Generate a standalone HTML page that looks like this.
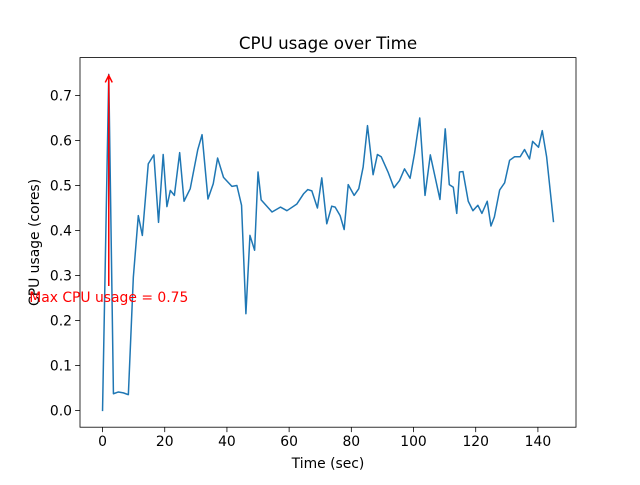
<!DOCTYPE html>
<html><head><meta charset="utf-8"><style>
body{margin:0;background:#fff;}
svg text{font-family:"DejaVu Sans","Liberation Sans",sans-serif;}
</style></head><body>
<svg id="chart" width="640" height="480" viewBox="0 0 640 480" xmlns="http://www.w3.org/2000/svg">
<rect width="640" height="480" fill="#fff"/>
<g id="plot"></g>
</svg>
<script>
const timeValues=[0,2,3.5,5.1,6.7,8.3,9.9,11.5,12.8,14.7,16.5,18,19.5,20.7,21.8,23.1,24.8,26.2,28.2,30.6,32,33.9,35.6,37,38.9,41.6,43.2,44.7,46.1,47.4,48.9,50,51,54.5,57.2,59.3,62.5,64.7,66,67.3,69.1,70.5,72.1,73.7,74.8,76.4,77.7,79,80.9,82.4,83.8,85.2,87,88.4,89.6,91.8,93.7,95.5,97.1,98.9,100.3,102,103.7,105.4,107,108.5,110.2,111.5,112.8,113.9,114.8,115.9,117.6,119.1,120.7,122,123.7,124.9,126,127.7,129.3,130.9,132.5,134.3,135.7,137.3,138.3,140.2,141.4,142.8,145];
const cpuValues=[0,0.747,0.037,0.041,0.039,0.035,0.296,0.433,0.389,0.548,0.568,0.418,0.569,0.453,0.489,0.478,0.573,0.465,0.493,0.579,0.613,0.47,0.504,0.561,0.518,0.498,0.5,0.456,0.215,0.389,0.356,0.53,0.468,0.441,0.452,0.444,0.459,0.482,0.491,0.488,0.45,0.517,0.415,0.454,0.452,0.433,0.402,0.502,0.478,0.493,0.541,0.633,0.524,0.569,0.564,0.53,0.495,0.511,0.537,0.516,0.57,0.65,0.478,0.568,0.517,0.469,0.626,0.502,0.496,0.438,0.53,0.531,0.465,0.444,0.456,0.438,0.465,0.41,0.43,0.49,0.506,0.556,0.564,0.564,0.58,0.559,0.598,0.585,0.622,0.564,0.42];
const xTicks=[0,20,40,60,80,100,120,140];
const yTicks=[0,0.1,0.2,0.3,0.4,0.5,0.6,0.7];
const annotText="Max CPU usage = 0.75";
const annotPoint=[2,0.747];
const annotTextPos=[2,0.25];

const L=80,R=576,T=57.6,B=427.2;
const xmin=Math.min(...timeValues),xmax=Math.max(...timeValues);
const ymin=Math.min(...cpuValues),ymax=Math.max(...cpuValues);
const xpad=(xmax-xmin)*0.05,ypad=(ymax-ymin)*0.05;
const x0=xmin-xpad,x1=xmax+xpad,y0=ymin-ypad,y1=ymax+ypad;
const sx=v=>L+(v-x0)/(x1-x0)*(R-L);
const sy=v=>B-(v-y0)/(y1-y0)*(B-T);
const NS="http://www.w3.org/2000/svg";
const g=document.getElementById('plot');
function mk(tag,attrs,parent){const e=document.createElementNS(NS,tag);for(const k in attrs)e.setAttribute(k,attrs[k]);(parent||g).appendChild(e);return e;}

const line=mk('polyline',{points:timeValues.map((t,i)=>sx(t)+','+sy(cpuValues[i])).join(' '),fill:'none',stroke:'#1f77b4','stroke-width':1.5,'stroke-linejoin':'round','stroke-linecap':'square'});



const frame=mk('rect',{x:L,y:T,width:R-L,height:B-T,fill:'none',stroke:'#000','stroke-width':0.8});



xTicks.forEach(v=>{
  const x=sx(v);
  const tk=mk('line',{x1:x,x2:x,y1:B,y2:B+4.9,stroke:'#000','stroke-width':0.8});
  
  
  const tx=mk('text',{x:x,y:B+19,'text-anchor':'middle','font-size':'13.9px',fill:'#000'});
  tx.textContent=String(v);
  
  
});
yTicks.forEach(v=>{
  const y=sy(v);
  const tk=mk('line',{x1:L-4.9,x2:L,y1:y,y2:y,stroke:'#000','stroke-width':0.8});
  
  
  const tx=mk('text',{x:L-8,y:y+5,'text-anchor':'end','font-size':'13.9px',fill:'#000'});
  tx.textContent=v.toFixed(1);
  
  
});

const title=mk('text',{x:(L+R)/2,y:49,'text-anchor':'middle','font-size':'16.7px',fill:'#000'});
title.textContent='CPU usage over Time';



const xl=mk('text',{x:(L+R)/2,y:468,'text-anchor':'middle','font-size':'13.9px',fill:'#000'});
xl.textContent='Time (sec)';



const yl=mk('text',{x:0,y:0,'text-anchor':'middle','font-size':'13.9px',fill:'#000',transform:'translate(39,'+((T+B)/2)+') rotate(-90)'});
yl.textContent='CPU usage (cores)';



const ax=sx(annotPoint[0]),ay=sy(annotPoint[1]),ty=sy(annotTextPos[1]);
const arrow=mk('line',{x1:sx(annotTextPos[0]),y1:ty-12,x2:ax,y2:ay+1,stroke:'red','stroke-width':1.5});


const head=mk('polyline',{points:(ax-3.5)+','+(ay+8)+' '+ax+','+(ay+1)+' '+(ax+3.5)+','+(ay+8),fill:'none',stroke:'red','stroke-width':1.5});


const at=mk('text',{x:sx(annotTextPos[0]),y:ty+4,'text-anchor':'middle','font-size':'13.9px',fill:'red'});
at.textContent=annotText;


</script>
</body></html>
